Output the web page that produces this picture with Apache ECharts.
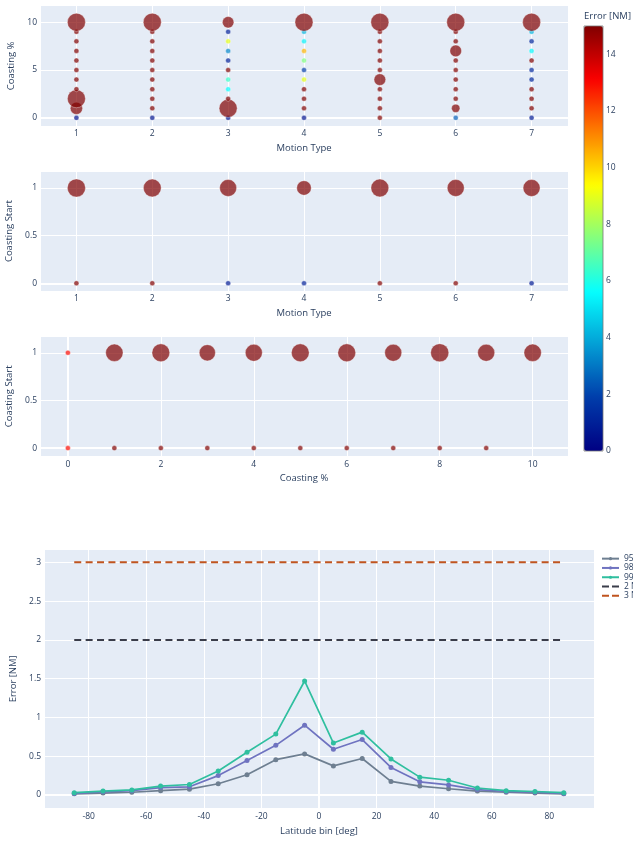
<!DOCTYPE html>
<html>
<head>
<meta charset="utf-8">
<script src="https://cdn.jsdelivr.net/npm/echarts@6/dist/echarts.min.js"></script>
<style>
  html, body { margin: 0; padding: 0; background: #fff; }
  #chart { width: 633px; height: 841px; }
</style>
</head>
<body>
<div id="chart"></div>
<script>
// ---- data ----
const motionTypes = [1, 2, 3, 4, 5, 6, 7];
const coastingPct = [0, 1, 2, 3, 4, 5, 6, 7, 8, 9, 10];

// mean error [NM], one row per motion type, one column per coasting %
const errByMotionCoast = [
  [0.6, 15, 15, 15, 15, 15, 15, 15, 15, 15, 15],
  [0.6, 15, 15, 15, 15, 15, 15, 15, 15, 15, 15],
  [0.6, 15, 15, 5.6, 6.4, 15, 1.0, 3.3, 9.0, 1.0, 15],
  [0.6, 15, 15, 15, 9.0, 1.8, 7.5, 10.5, 5.4, 4.2, 15],
  [15, 15, 15, 15, 15, 15, 15, 15, 15, 15, 15],
  [2.5, 15, 15, 15, 15, 15, 15, 15, 15, 15, 15],
  [0.8, 15, 15, 15, 1.2, 1.2, 15, 5.5, 1.2, 4.2, 15]
];
// number of runs in each cell (bubble size)
const runsByMotionCoast = [
  [1, 6, 13, 1, 1, 1, 1, 1, 1, 1, 13],
  [1, 1, 1, 1, 1, 1, 1, 1, 1, 1, 13],
  [1, 13, 1, 1, 1, 1, 1, 1, 1, 1, 5.3],
  [1, 1, 1, 1, 1, 1, 1, 1, 1, 1, 13],
  [1, 1, 1, 1, 5.5, 1, 1, 1, 1, 1, 13],
  [1, 2.8, 1, 1, 1, 1, 1, 5.5, 1, 1, 13],
  [1, 1, 1, 1, 1, 1, 1, 1, 1, 1, 13]
];

// coasting start (0 / 1) per motion type
const errStart0ByMotion = [15, 15, 0.8, 1.0, 15, 15, 0.8];
const runsStart0ByMotion = [1, 1, 1, 1, 1, 1, 1];
const errStart1ByMotion = [15, 15, 15, 15, 15, 15, 15];
const runsStart1ByMotion = [13.2, 12.7, 11.6, 8.5, 12.7, 11.6, 11.6];

// coasting start (0 / 1) per coasting %
const coastPctStart0 = [0, 1, 2, 3, 4, 5, 6, 7, 8, 9];
const errStart0ByCoast = [13, 15, 15, 15, 15, 15, 15, 15, 15, 15];
const runsStart0ByCoast = [1, 1, 1, 1, 1, 1, 1, 1, 1, 1];
const errStart1ByCoast = [13, 15, 15, 15, 15, 15, 15, 15, 15, 15, 15];
const runsStart1ByCoast = [1, 12.1, 12.7, 10.5, 11.6, 12.7, 12.7, 11.6, 13.2, 11.6, 12.1];

// error percentiles per latitude bin
const latBins = [-85, -75, -65, -55, -45, -35, -25, -15, -5, 5, 15, 25, 35, 45, 55, 65, 75, 85];
const p95 = [0.015, 0.025, 0.035, 0.055, 0.075, 0.145, 0.26, 0.455, 0.53, 0.375, 0.47, 0.175, 0.115, 0.08, 0.05, 0.035, 0.025, 0.015];
const p98 = [0.02, 0.04, 0.055, 0.095, 0.105, 0.25, 0.445, 0.64, 0.90, 0.59, 0.715, 0.355, 0.17, 0.13, 0.07, 0.045, 0.035, 0.02];
const p99 = [0.03, 0.05, 0.065, 0.115, 0.135, 0.31, 0.55, 0.785, 1.47, 0.67, 0.81, 0.465, 0.23, 0.19, 0.09, 0.056, 0.045, 0.03];
const limitBins = [-85, 85];
const limit2NM = [2, 2];
const limit3NM = [3, 3];

const colorTicks = [0, 15];

// ---- styling ----
const FONT = '"Open Sans", Verdana, sans-serif';
const INK = '#2a3f5f';
const PLOT_BG = '#e5ecf6';
// plotly "jet", resampled at even steps
const JET = ['rgb(0,0,131)', 'rgb(0,60,170)', 'rgb(3,158,213)', 'rgb(5,255,255)',
  'rgb(130,255,128)', 'rgb(255,255,0)', 'rgb(253,128,0)', 'rgb(250,0,0)', 'rgb(128,0,0)'];
const DASH_ICON = 'path://M0,0h7v2h-7zM10,0h7v2h-7z';

const topData = [];
motionTypes.forEach((m, i) => coastingPct.forEach((c, j) => {
  topData.push([m, c, errByMotionCoast[i][j], runsByMotionCoast[i][j]]);
}));
const midData = [];
motionTypes.forEach((m, i) => {
  midData.push([m, 0, errStart0ByMotion[i], runsStart0ByMotion[i]]);
  midData.push([m, 1, errStart1ByMotion[i], runsStart1ByMotion[i]]);
});
const lowData = [];
coastPctStart0.forEach((c, i) => lowData.push([c, 0, errStart0ByCoast[i], runsStart0ByCoast[i]]));
coastingPct.forEach((c, i) => lowData.push([c, 1, errStart1ByCoast[i], runsStart1ByCoast[i]]));

function valAxis(gridIndex, min, max, splitNumber, extra) {
  return Object.assign({
    type: 'value', gridIndex, min, max, splitNumber,
    axisLine: {show: false}, axisTick: {show: false},
    splitLine: {show: true, lineStyle: {color: '#fff', width: 1}},
    axisLabel: {showMinLabel: false, showMaxLabel: false, color: INK, fontSize: 8.5, fontFamily: FONT, margin: 3},
    nameLocation: 'middle',
    nameTextStyle: {color: INK, fontSize: 9.5, fontFamily: FONT}
  }, extra);
}

function bubbles(idx, data) {
  return {
    type: 'scatter', xAxisIndex: idx, yAxisIndex: idx, data, z: 2,
    symbol: 'circle',
    symbolSize: v => 5 * Math.sqrt(v[3]),
    itemStyle: {opacity: 0.7, borderColor: '#fff', borderWidth: 0.5},
    emphasis: {disabled: true}
  };
}

function zeroLine(idx, where) {
  return {
    type: 'line', xAxisIndex: idx, yAxisIndex: idx, data: [], silent: true,
    markLine: {
      silent: true, symbol: 'none', animation: false, z: 1,
      label: {show: false},
      lineStyle: {color: '#fff', width: 2, type: 'solid'},
      data: where
    }
  };
}

function pctLine(name, values, color) {
  return {
    name, type: 'line', xAxisIndex: 4, yAxisIndex: 4,
    data: latBins.map((x, i) => [x, values[i]]),
    symbol: 'circle', symbolSize: 5,
    lineStyle: {color, width: 1.7},
    itemStyle: {color}
  };
}

function limitLine(name, values, color) {
  return {
    name, type: 'line', xAxisIndex: 4, yAxisIndex: 4,
    data: limitBins.map((x, i) => [x, values[i]]),
    symbol: 'none',
    lineStyle: {color, width: 2, type: [7, 4.4]},
    itemStyle: {color}
  };
}

const plotGrid = (left, top, width, height) => ({
  left, top, width, height, show: true, backgroundColor: PLOT_BG, borderWidth: 0, outerBoundsMode: 'none'
});

const chart = echarts.init(document.getElementById('chart'));
chart.setOption({
  animation: false,
  textStyle: {fontFamily: FONT},
  title: {
    text: 'Error [NM]', left: 584, top: 11, padding: 0,
    textStyle: {fontSize: 9.5, color: INK, fontWeight: 'normal', fontFamily: FONT}
  },
  grid: [
    plotGrid(40, 5.7, 528, 120.3),
    plotGrid(40, 171, 528, 120.3),
    plotGrid(40, 336, 528, 120.7),
    {left: 584, top: 26, width: 19, height: 425, show: true, backgroundColor: 'transparent',
      borderColor: '#777', borderWidth: 0.8, z: 10, outerBoundsMode: 'none'},
    plotGrid(44, 549, 550, 259.7)
  ],
  xAxis: [
    valAxis(0, 0.52, 7.48, 6, {name: 'Motion Type', nameGap: 17}),
    valAxis(1, 0.52, 7.48, 6, {name: 'Motion Type', nameGap: 17}),
    valAxis(2, -0.6, 10.76, 5, {name: 'Coasting %', nameGap: 17}),
    {type: 'value', gridIndex: 3, show: false, min: 0, max: 1},
    valAxis(4, -95.5, 95.5, 9, {name: 'Latitude bin [deg]', nameGap: 18})
  ],
  yAxis: [
    valAxis(0, -0.85, 11.73, 2, {name: 'Coasting %', nameGap: 20}),
    valAxis(1, -0.084, 1.178, 2, {name: 'Coasting Start', nameGap: 22}),
    valAxis(2, -0.09, 1.176, 2, {name: 'Coasting Start', nameGap: 22}),
    {type: 'value', gridIndex: 3, position: 'right', min: colorTicks[0], max: colorTicks[1], interval: 2,
      axisLine: {show: false}, axisTick: {show: false}, splitLine: {show: false},
      axisLabel: {showMaxLabel: false, color: INK, fontSize: 8.5, fontFamily: FONT, margin: 3}},
    valAxis(4, -0.177, 3.172, 7, {name: 'Error [NM]', nameGap: 22})
  ],
  visualMap: {
    type: 'continuous', min: colorTicks[0], max: colorTicks[1], dimension: 2, seriesIndex: [0, 1, 2],
    calculable: false, hoverLink: false, left: 584, top: 26, itemWidth: 19, itemHeight: 425,
    padding: 0, inRange: {color: JET}
  },
  legend: {
    data: [
      {name: '95th percentile'},
      {name: '98th percentile'},
      {name: '99th percentile'},
      {name: '2 NM', icon: DASH_ICON},
      {name: '3 NM', icon: DASH_ICON}
    ],
    orient: 'vertical', left: 601, top: 554, padding: 0,
    itemWidth: 17, itemHeight: 4, itemGap: 0, selectedMode: false,
    textStyle: {fontSize: 8.5, color: INK, lineHeight: 9.3, fontFamily: FONT}
  },
  series: [
    bubbles(0, topData),
    bubbles(1, midData),
    bubbles(2, lowData),
    pctLine('95th percentile', p95, '#6e7f91'),
    pctLine('98th percentile', p98, '#6f73c0'),
    pctLine('99th percentile', p99, '#2fbf9f'),
    limitLine('2 NM', limit2NM, '#3a3d4a'),
    limitLine('3 NM', limit3NM, '#c0541f'),
    zeroLine(0, [{yAxis: 0}]),
    zeroLine(1, [{yAxis: 0}]),
    zeroLine(2, [{yAxis: 0}, {xAxis: 0}]),
    zeroLine(4, [{yAxis: 0}, {xAxis: 0}])
  ]
});
</script>
</body>
</html>
